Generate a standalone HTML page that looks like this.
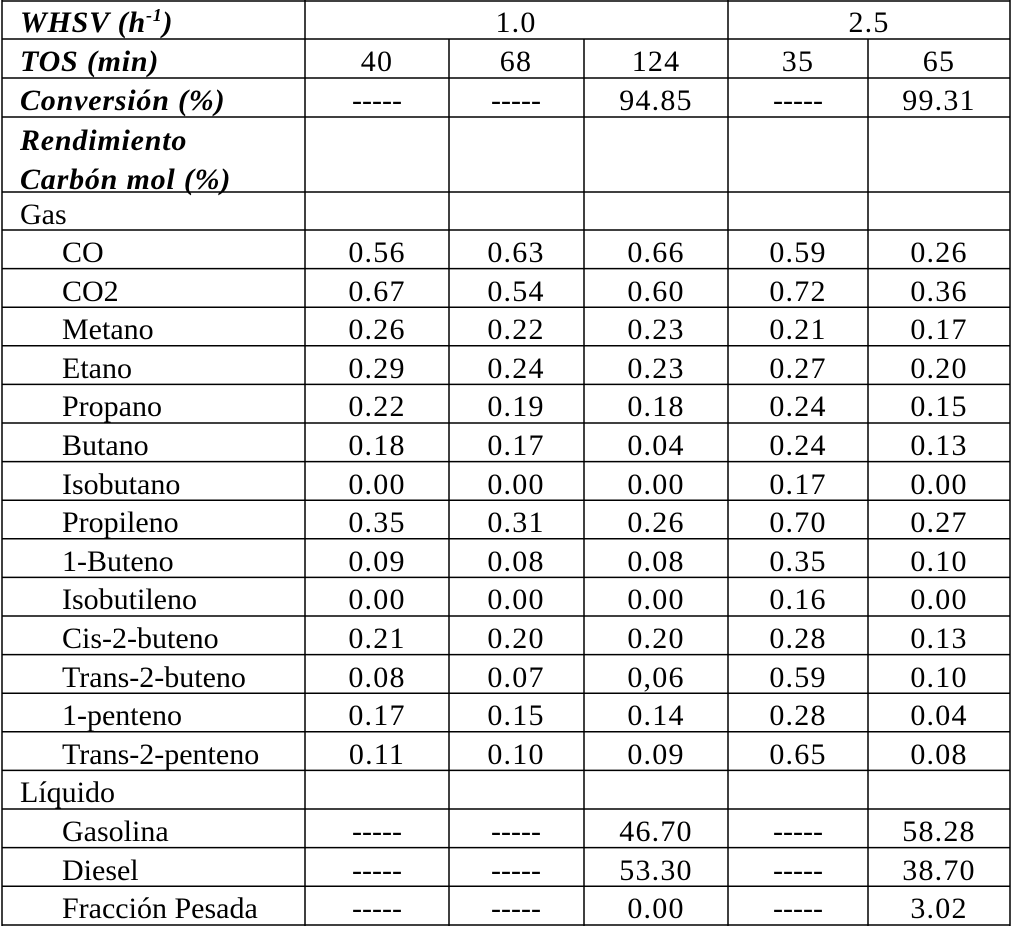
<!DOCTYPE html>
<html><head><meta charset="utf-8"><style>
html,body{margin:0;padding:0;background:#fff;}
svg{display:block;}
text{font-family:"Liberation Serif",serif;font-size:30px;fill:#000;}
.b{font-weight:bold;font-style:italic;letter-spacing:0.8px;}
.c{text-anchor:middle;letter-spacing:1.2px;}
.d{text-anchor:middle;letter-spacing:0px;}
</style></head><body>
<svg width="1016" height="929" viewBox="0 0 1016 929" xmlns="http://www.w3.org/2000/svg">
<g stroke="#000" stroke-width="1.5">
<line x1="2" y1="0" x2="2" y2="926"/>
<line x1="1010" y1="0" x2="1010" y2="926"/>
<line x1="305" y1="0" x2="305" y2="926"/>
<line x1="728" y1="0" x2="728" y2="926"/>
<line x1="449" y1="39" x2="449" y2="926"/>
<line x1="584" y1="39" x2="584" y2="926"/>
<line x1="868" y1="39" x2="868" y2="926"/>
<line x1="2" y1="1" x2="1010" y2="1"/>
<line x1="2" y1="39" x2="1010" y2="39"/>
<line x1="2" y1="78" x2="1010" y2="78"/>
<line x1="2" y1="117" x2="1010" y2="117"/>
<line x1="2" y1="192" x2="1010" y2="192"/>
<line x1="2" y1="230" x2="1010" y2="230"/>
<line x1="2" y1="268.6" x2="1010" y2="268.6"/>
<line x1="2" y1="307.2" x2="1010" y2="307.2"/>
<line x1="2" y1="345.8" x2="1010" y2="345.8"/>
<line x1="2" y1="384.4" x2="1010" y2="384.4"/>
<line x1="2" y1="423" x2="1010" y2="423"/>
<line x1="2" y1="461.6" x2="1010" y2="461.6"/>
<line x1="2" y1="500.2" x2="1010" y2="500.2"/>
<line x1="2" y1="538.8" x2="1010" y2="538.8"/>
<line x1="2" y1="577.4" x2="1010" y2="577.4"/>
<line x1="2" y1="616" x2="1010" y2="616"/>
<line x1="2" y1="654.6" x2="1010" y2="654.6"/>
<line x1="2" y1="693.2" x2="1010" y2="693.2"/>
<line x1="2" y1="731.8" x2="1010" y2="731.8"/>
<line x1="2" y1="770.4" x2="1010" y2="770.4"/>
<line x1="2" y1="809" x2="1010" y2="809"/>
<line x1="2" y1="847.6" x2="1010" y2="847.6"/>
<line x1="2" y1="886.2" x2="1010" y2="886.2"/>
<line x1="2" y1="925" x2="1010" y2="925"/>
</g>
<g transform="translate(0,2)">
<text class="b" x="20" y="30">WHSV (h<tspan dy="-11" font-size="18">-1</tspan><tspan dy="11">)</tspan></text>
<text class="c" x="516" y="30">1.0</text><text class="c" x="869" y="30">2.5</text>
<text class="b" x="20" y="69">TOS (min)</text>
<text class="c" x="377" y="69">40</text><text class="c" x="516" y="69">68</text><text class="c" x="656" y="69">124</text><text class="c" x="798" y="69">35</text><text class="c" x="939" y="69">65</text>
<text class="b" x="20" y="108">Conversión (%)</text>
<text class="d" x="377" y="108">-----</text><text class="d" x="516" y="108">-----</text><text class="c" x="656" y="108">94.85</text><text class="d" x="798" y="108">-----</text><text class="c" x="939" y="108">99.31</text>
<text class="b" x="20" y="148">Rendimiento</text>
<text class="b" x="20" y="187">Carbón mol (%)</text>
<text x="20" y="222">Gas</text>

<text x="62" y="260">CO</text>
<text class="c" x="377" y="260">0.56</text><text class="c" x="516" y="260">0.63</text><text class="c" x="656" y="260">0.66</text><text class="c" x="798" y="260">0.59</text><text class="c" x="939" y="260">0.26</text>
<text x="62" y="299">CO2</text>
<text class="c" x="377" y="299">0.67</text><text class="c" x="516" y="299">0.54</text><text class="c" x="656" y="299">0.60</text><text class="c" x="798" y="299">0.72</text><text class="c" x="939" y="299">0.36</text>
<text x="62" y="337">Metano</text>
<text class="c" x="377" y="337">0.26</text><text class="c" x="516" y="337">0.22</text><text class="c" x="656" y="337">0.23</text><text class="c" x="798" y="337">0.21</text><text class="c" x="939" y="337">0.17</text>
<text x="62" y="376">Etano</text>
<text class="c" x="377" y="376">0.29</text><text class="c" x="516" y="376">0.24</text><text class="c" x="656" y="376">0.23</text><text class="c" x="798" y="376">0.27</text><text class="c" x="939" y="376">0.20</text>
<text x="62" y="414">Propano</text>
<text class="c" x="377" y="414">0.22</text><text class="c" x="516" y="414">0.19</text><text class="c" x="656" y="414">0.18</text><text class="c" x="798" y="414">0.24</text><text class="c" x="939" y="414">0.15</text>
<text x="62" y="453">Butano</text>
<text class="c" x="377" y="453">0.18</text><text class="c" x="516" y="453">0.17</text><text class="c" x="656" y="453">0.04</text><text class="c" x="798" y="453">0.24</text><text class="c" x="939" y="453">0.13</text>
<text x="62" y="492">Isobutano</text>
<text class="c" x="377" y="492">0.00</text><text class="c" x="516" y="492">0.00</text><text class="c" x="656" y="492">0.00</text><text class="c" x="798" y="492">0.17</text><text class="c" x="939" y="492">0.00</text>
<text x="62" y="530">Propileno</text>
<text class="c" x="377" y="530">0.35</text><text class="c" x="516" y="530">0.31</text><text class="c" x="656" y="530">0.26</text><text class="c" x="798" y="530">0.70</text><text class="c" x="939" y="530">0.27</text>
<text x="62" y="569">1-Buteno</text>
<text class="c" x="377" y="569">0.09</text><text class="c" x="516" y="569">0.08</text><text class="c" x="656" y="569">0.08</text><text class="c" x="798" y="569">0.35</text><text class="c" x="939" y="569">0.10</text>
<text x="62" y="607">Isobutileno</text>
<text class="c" x="377" y="607">0.00</text><text class="c" x="516" y="607">0.00</text><text class="c" x="656" y="607">0.00</text><text class="c" x="798" y="607">0.16</text><text class="c" x="939" y="607">0.00</text>
<text x="62" y="646">Cis-2-buteno</text>
<text class="c" x="377" y="646">0.21</text><text class="c" x="516" y="646">0.20</text><text class="c" x="656" y="646">0.20</text><text class="c" x="798" y="646">0.28</text><text class="c" x="939" y="646">0.13</text>
<text x="62" y="685">Trans-2-buteno</text>
<text class="c" x="377" y="685">0.08</text><text class="c" x="516" y="685">0.07</text><text class="c" x="656" y="685">0,06</text><text class="c" x="798" y="685">0.59</text><text class="c" x="939" y="685">0.10</text>
<text x="62" y="723">1-penteno</text>
<text class="c" x="377" y="723">0.17</text><text class="c" x="516" y="723">0.15</text><text class="c" x="656" y="723">0.14</text><text class="c" x="798" y="723">0.28</text><text class="c" x="939" y="723">0.04</text>
<text x="62" y="762">Trans-2-penteno</text>
<text class="c" x="377" y="762">0.11</text><text class="c" x="516" y="762">0.10</text><text class="c" x="656" y="762">0.09</text><text class="c" x="798" y="762">0.65</text><text class="c" x="939" y="762">0.08</text>
<text x="20" y="800">Líquido</text>
<text x="62" y="839">Gasolina</text>
<text class="d" x="377" y="839">-----</text><text class="d" x="516" y="839">-----</text><text class="c" x="656" y="839">46.70</text><text class="d" x="798" y="839">-----</text><text class="c" x="939" y="839">58.28</text>
<text x="62" y="878">Diesel</text>
<text class="d" x="377" y="878">-----</text><text class="d" x="516" y="878">-----</text><text class="c" x="656" y="878">53.30</text><text class="d" x="798" y="878">-----</text><text class="c" x="939" y="878">38.70</text>
<text x="62" y="916">Fracción Pesada</text>
<text class="d" x="377" y="916">-----</text><text class="d" x="516" y="916">-----</text><text class="c" x="656" y="916">0.00</text><text class="d" x="798" y="916">-----</text><text class="c" x="939" y="916">3.02</text>
</g>
</svg>
</body></html>
